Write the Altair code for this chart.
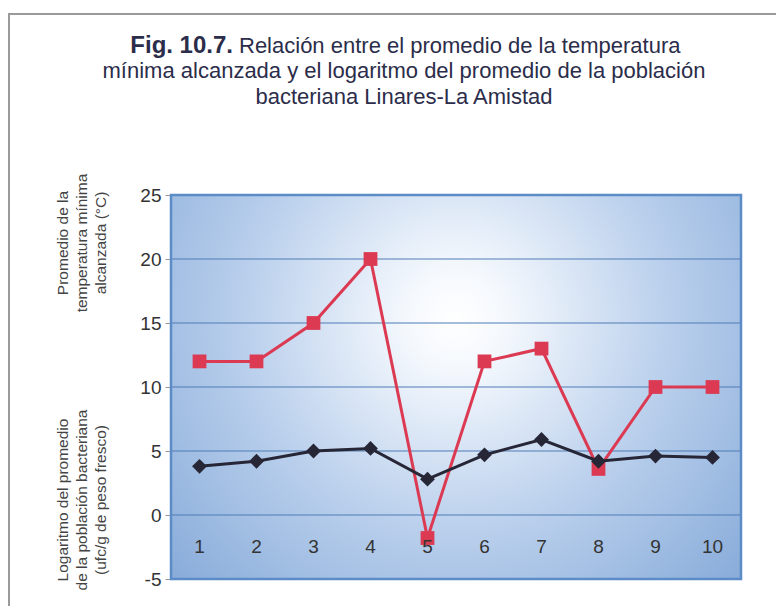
import altair as alt
import pandas as pd

categories = ["1", "2", "3", "4", "5", "6", "7", "8", "9", "10"]
temp_min = [12, 12, 15, 20, -1.8, 12, 13, 3.6, 10, 10]
log_pop = [3.8, 4.2, 5.0, 5.2, 2.8, 4.7, 5.9, 4.2, 4.6, 4.5]
y_ticks = [-5, 0, 5, 10, 15, 20, 25]
grid_values = [0, 5, 10, 15, 20]
label_level = -2.5

title_bold = "Fig. 10.7."
title_line1 = "Relación entre el promedio de la temperatura"
title_line2 = "mínima alcanzada y el logaritmo del promedio de la población"
title_line3 = "bacteriana Linares-La Amistad"
ytitle_upper = ["Promedio de la", "temperatura mínima", "alcanzada (°C)"]
ytitle_lower = ["Logaritmo del promedio", "de la población bacteriana", "(ufc/g de peso fresco)"]

W, H = 570, 384
FONT = "Liberation Sans"
TXT = "#2b2d4a"

df = pd.DataFrame({"cat": categories, "temp": temp_min, "logp": log_pop})
one = pd.DataFrame({"k": [0]})

xs = alt.X("cat:N", sort=categories, scale=alt.Scale(type="point", padding=0.5), axis=None)
yscale = alt.Scale(domain=[-5, 25], nice=False, zero=False)

bg = alt.Chart(one).mark_rect(
    fill=alt.Gradient(
        gradient="radial", x1=0.5, y1=0.38, r1=0.0, x2=0.5, y2=0.38, r2=0.75,
        stops=[alt.GradientStop(offset=0, color="#ffffff"),
               alt.GradientStop(offset=0.12, color="#f4f8fd"),
               alt.GradientStop(offset=0.5, color="#b9cfec"),
               alt.GradientStop(offset=1, color="#7ca3d5")]),
).encode(x=alt.value(0), x2=alt.value(W), y=alt.value(0), y2=alt.value(H))

grid = alt.Chart(pd.DataFrame({"g": grid_values})).mark_rule(color="#4f7db5", strokeWidth=1.2).encode(
    y=alt.Y("g:Q", scale=yscale,
            axis=alt.Axis(values=y_ticks, title=None, grid=False, domain=False,
                          labelExpr="'' + datum.value",
                          labelFont=FONT, labelFontSize=19, labelColor="#333333",
                          tickColor="#999999", tickSize=6, labelPadding=4)),
)

border = alt.Chart(one).mark_rect(fillOpacity=0, stroke="#5b8cc6", strokeWidth=2.5).encode(
    x=alt.value(0), x2=alt.value(W), y=alt.value(0), y2=alt.value(H))

base = alt.Chart(df)
red_line = base.mark_line(color="#dc3a52", strokeWidth=3).encode(x=xs, y=alt.Y("temp:Q", scale=yscale))
red_pts = base.mark_point(shape="square", filled=True, size=190, color="#dc3a52", opacity=1).encode(
    x=xs, y=alt.Y("temp:Q", scale=yscale))
blk_line = base.mark_line(color="#262636", strokeWidth=3).encode(x=xs, y=alt.Y("logp:Q", scale=yscale))
blk_pts = base.mark_point(shape="diamond", filled=True, size=220, color="#262636", opacity=1).encode(
    x=xs, y=alt.Y("logp:Q", scale=yscale))

xlabels = base.mark_text(font=FONT, fontSize=19, color="#333333", baseline="middle").encode(
    x=xs, y=alt.datum(label_level), text="cat:N")


def txt(text, x, y, **kw):
    return alt.Chart(one).mark_text(font=FONT, **kw).encode(
        x=alt.value(x), y=alt.value(y), text=alt.value(text))


t_bold = txt(title_bold, 62, -149, fontSize=24, fontWeight="bold", color=TXT, align="right", baseline="middle")
t1 = txt(title_line1, 68, -149, fontSize=22, color=TXT, align="left", baseline="middle")
t2 = txt(title_line2, 233, -124, fontSize=22, color=TXT, align="center", baseline="middle")
t3 = txt(title_line3, 233, -98, fontSize=22, color=TXT, align="center", baseline="middle")

yt_up = txt(ytitle_upper, -108, 48, fontSize=15.5, color="#444444", align="center", baseline="middle",
            angle=270, lineHeight=19)
yt_lo = txt(ytitle_lower, -108, 305, fontSize=15.5, color="#444444", align="center", baseline="middle",
            angle=270, lineHeight=19)

frame_top = alt.Chart(one).mark_rule(color="#9a9a9a", strokeWidth=2).encode(
    x=alt.value(-163), x2=alt.value(620), y=alt.value(-181))
frame_left = alt.Chart(one).mark_rule(color="#9a9a9a", strokeWidth=2).encode(
    x=alt.value(-162), y=alt.value(-181), y2=alt.value(430))

chart = alt.layer(
    bg, grid, border, red_line, blk_line, red_pts, blk_pts, xlabels,
    t_bold, t1, t2, t3, yt_up, yt_lo, frame_top, frame_left,
).properties(
    width=W, height=H,
    autosize=alt.AutoSizeParams(type="none"),
    padding={"left": 163, "top": 187, "right": 35, "bottom": 27},
    background="white",
).configure_view(stroke=None)

chart.save("out.html", embed_options={"renderer": "svg", "actions": False})
